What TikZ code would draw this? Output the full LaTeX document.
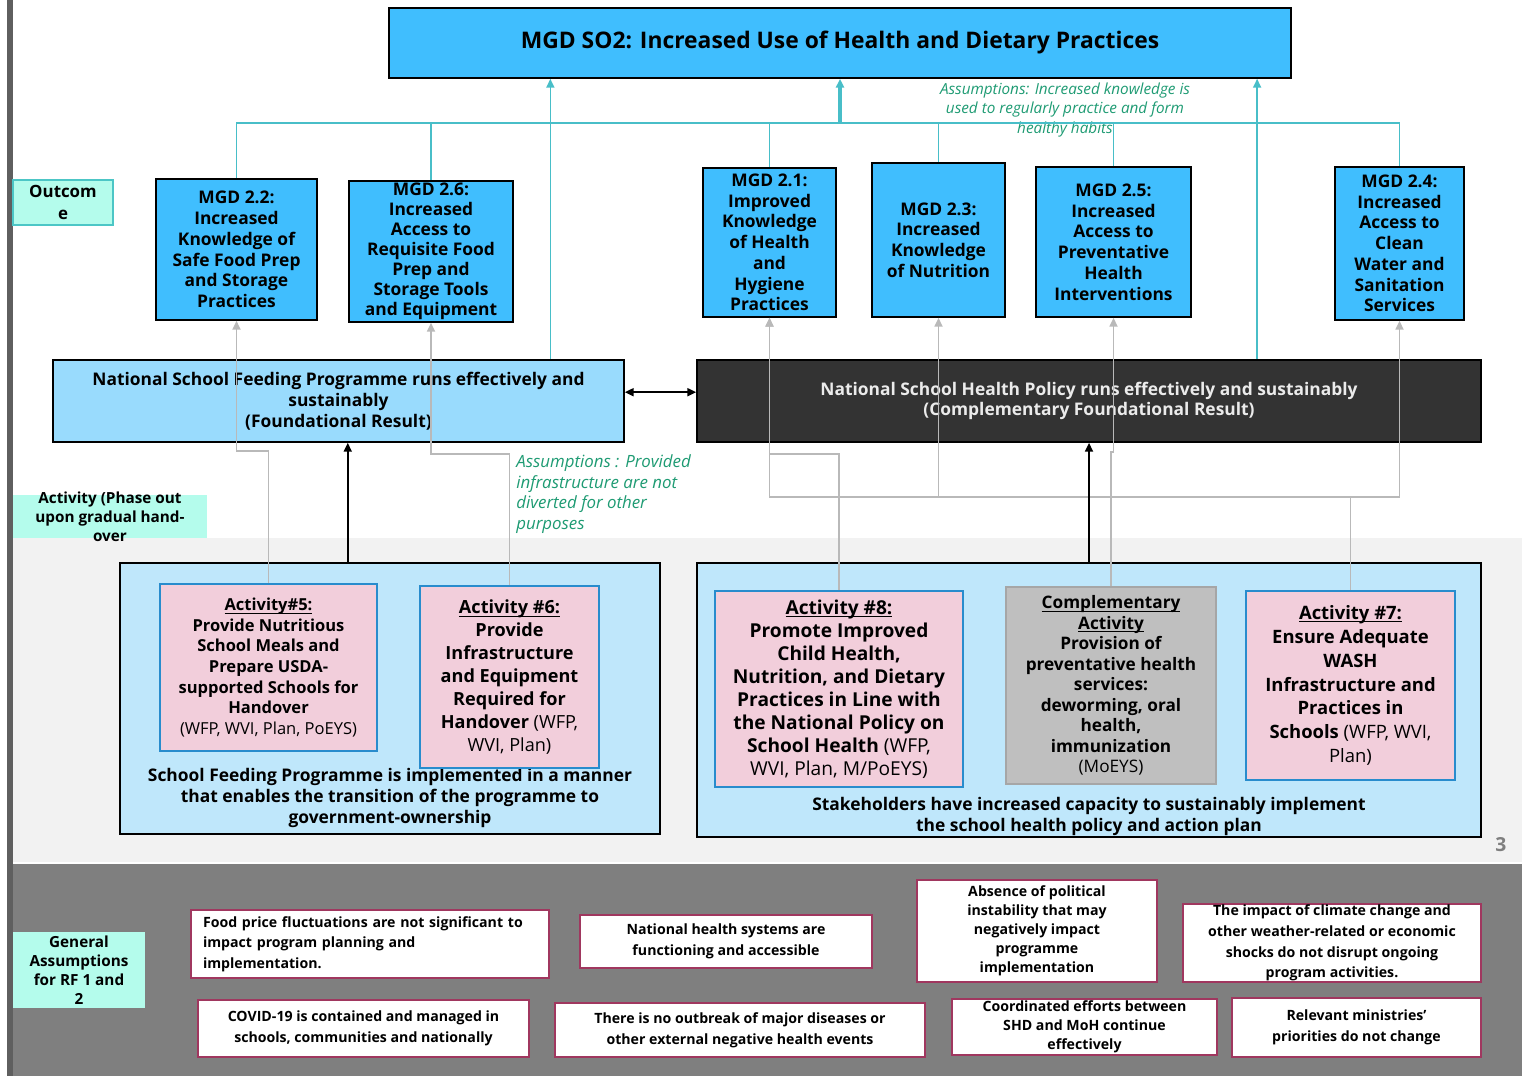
\documentclass[tikz,border=0pt]{standalone}
\usepackage{fontspec}
\setmainfont{Open Sans}
\usepackage{xcolor}
\usepackage{tikz}
\usetikzlibrary{positioning,calc,arrows.meta}

\definecolor{mgdblue}{RGB}{64,190,254}
\definecolor{foundblue}{RGB}{153,219,253}
\definecolor{healthdark}{RGB}{51,51,51}
\definecolor{outerblue}{RGB}{191,231,251}
\definecolor{actpink}{RGB}{242,206,219}
\definecolor{actedge}{RGB}{40,140,205}
\definecolor{compgray}{RGB}{191,191,191}
\definecolor{compedge}{RGB}{166,166,166}
\definecolor{aqua}{RGB}{180,252,236}
\definecolor{aquaedge}{RGB}{76,198,198}
\definecolor{tealln}{RGB}{72,190,200}
\definecolor{grayln}{RGB}{185,185,185}
\definecolor{notegreen}{RGB}{30,155,115}
\definecolor{assumeedge}{RGB}{160,55,95}
\definecolor{bandgray}{RGB}{242,242,242}
\definecolor{footgray}{RGB}{127,127,127}
\definecolor{bargray}{RGB}{95,95,95}

\newlength{\ux}
\setlength{\ux}{0.02cm}
\newcommand{\ulin}[1]{\underline{\raisebox{0pt}[\height][0pt]{#1}}}
\tikzset{wh/.style 2 args={minimum width=#1*\ux, minimum height=#2*\ux}}

\begin{document}
\begin{tikzpicture}[
    x=\ux, y=-\ux,
    box/.style = {
        rectangle,
        draw=black,
        line width=0.9pt,
        align=center,
        inner sep=0pt
    },
    mgd/.style      = {box, fill=mgdblue, font=\bfseries\fontsize{9.9}{11.8}\selectfont},
    found/.style    = {box, font=\bfseries\fontsize{9.9}{11.8}\selectfont},
    outer/.style    = {box, fill=outerblue},
    outertext/.style = {align=center, inner sep=0pt, font=\bfseries\fontsize{9.9}{11.9}\selectfont},
    act/.style      = {box, draw=actedge, line width=1.1pt, fill=actpink},
    comp/.style     = {box, draw=compedge, line width=1.1pt, fill=compgray, font=\bfseries\fontsize{9.8}{11.7}\selectfont},
    sidelabel/.style = {box, draw=none, fill=aqua, font=\bfseries\fontsize{8.7}{10.8}\selectfont},
    assume/.style   = {box, draw=assumeedge, line width=1pt, fill=white, font=\bfseries\fontsize{8.05}{11.7}\selectfont},
    note/.style     = {inner sep=0pt, text=notegreen, font=\itshape\fontsize{8.7}{11}\selectfont},
    tealline/.style  = {draw=tealln, line width=0.9pt},
    tealarrow/.style = {tealline, -{Triangle[length=5pt,width=4.5pt]}},
    grayarrow/.style = {draw=grayln, line width=1.1pt, -{Triangle[length=5pt,width=4.5pt]}},
    blackarrow/.style = {draw=black, line width=1.1pt, -{Triangle[length=5pt,width=4.5pt]}},
    dblarrow/.style  = {draw=black, line width=1.1pt, {Triangle[length=5pt,width=4.5pt]}-{Triangle[length=5pt,width=4.5pt]}}
]

\useasboundingbox (0,0) rectangle (1522,1076);

% backdrop bands
\fill[white] (0,0) rectangle (1522,1076);
\fill[bandgray] (13,538) rectangle (1522,862);
\fill[footgray] (8,864) rectangle (1522,1076);
\fill[bargray] (7,0) rectangle (13,1076);

% goal
\node[mgd, wh={902}{70}, font=\bfseries\fontsize{13}{15}\selectfont] (so2) at (840,43)
    {MGD SO2: Increased Use of Health and Dietary Practices};

% outcomes
\node[mgd, wh={161}{141}] (m22) at (236.5,249.5)
    {MGD 2.2:\\Increased\\Knowledge of\\Safe Food Prep\\and Storage\\Practices};
\node[mgd, wh={164}{141}, font=\bfseries\fontsize{9.9}{11.4}\selectfont] (m26) at (431,251.5)
    {MGD 2.6:\\Increased\\Access to\\Requisite Food\\Prep and\\Storage Tools\\and Equipment};
\node[mgd, wh={133}{149}] (m21) at (769.5,242.5)
    {MGD 2.1:\\Improved\\Knowledge\\of Health\\and\\Hygiene\\Practices};
\node[mgd, wh={133}{154}] (m23) at (938.5,240)
    {MGD 2.3:\\Increased\\Knowledge\\of Nutrition};
\node[mgd, wh={155}{150}] (m25) at (1113.5,242)
    {MGD 2.5:\\Increased\\Access to\\Preventative\\Health\\Interventions};
\node[mgd, wh={129}{153}] (m24) at (1399.5,243.5)
    {MGD 2.4:\\Increased\\Access to\\Clean\\Water and\\Sanitation\\Services};

% foundational results
\node[found, fill=foundblue, wh={571}{82}] (nsfp) at (338.5,401)
    {National School Feeding Programme runs effectively and\\sustainably\\(Foundational Result)};
\node[found, fill=healthdark, text=white!92!black, wh={784}{82}] (nshp) at (1089,401)
    {National School Health Policy runs effectively and sustainably\\(Complementary Foundational Result)};

% activity groups
\node[outer, wh={540}{271}] (lout) at (390,698.5) {};
\node[outer, wh={784}{274}] (rout) at (1089,700) {};

\node[outertext] (lfeedtxt) at (390,798)
    {School Feeding Programme is implemented in a manner\\that enables the transition of the programme to\\government-ownership};
\node[outertext] (rhealthtxt) at (1089,816.5)
    {Stakeholders have increased capacity to sustainably implement\\the school health policy and action plan};

\node[act, wh={217}{167}, font=\bfseries\fontsize{9.4}{11.7}\selectfont] (act5) at (268.5,667.5)
    {\ulin{Activity\#5:}\\Provide Nutritious\\School Meals and\\Prepare USDA-\\supported Schools for\\Handover\\{\mdseries (WFP, WVI, Plan, PoEYS)}};
\node[act, wh={179}{182}, font=\bfseries\fontsize{10.3}{13.1}\selectfont] (act6) at (509.5,677)
    {\ulin{Activity \#6:}\\Provide\\Infrastructure\\and Equipment\\Required for\\Handover {\mdseries (WFP,}\\{\mdseries WVI, Plan)}};
\node[act, wh={248}{196}, font=\bfseries\fontsize{10.9}{13.1}\selectfont] (act8) at (839,689)
    {\ulin{Activity \#8:}\\Promote Improved\\Child Health,\\Nutrition, and Dietary\\Practices in Line with\\the National Policy on\\School Health {\mdseries (WFP,}\\{\mdseries WVI, Plan, M/PoEYS)}};
\node[comp, wh={210}{197}] (comp) at (1111,685.5)
    {\ulin{Complementary}\\\ulin{Activity}\\Provision of\\preventative health\\services:\\deworming, oral\\health,\\immunization\\{\mdseries (MoEYS)}};
\node[act, wh={209}{189}, font=\bfseries\fontsize{10.5}{13.6}\selectfont] (act7) at (1350.5,685.5)
    {\ulin{Activity \#7:}\\Ensure Adequate\\WASH\\Infrastructure and\\Practices in\\Schools {\mdseries (WFP, WVI,}\\{\mdseries Plan)}};

% side labels
\node[sidelabel, draw=aquaedge, line width=0.8pt, wh={100}{45}, font=\bfseries\fontsize{9.6}{12}\selectfont] (outlbl) at (63,202.5)
    {Outcom\\e};
\node[sidelabel, wh={194}{43},
      label={[align=center, font=\bfseries\fontsize{8.7}{10.8}\selectfont]center:Activity (Phase out\\upon gradual hand-\\over}] (actlbl) at (110,516.5) {};
\node[sidelabel, wh={132}{76}] (genlbl) at (79,970)
    {General\\Assumptions\\for RF 1 and\\2};

% assumption notes
\node[note, align=center] (knnote) at (1065,110)
    {Assumptions: Increased knowledge is\\used to regularly practice and form\\healthy habits};
\node[note, align=left, anchor=west, font=\itshape\fontsize{9.6}{11.8}\selectfont] (infranote) at (516,494)
    {Assumptions : Provided\\infrastructure are not\\diverted for other\\purposes};

% general assumptions
\node[assume, wh={358}{68}, align=left, text width=334*\ux] (b1) at (370,944)
    {Food price fluctuations are not significant to\\impact program planning and\\implementation.};
\node[assume, wh={292}{53}] (b2) at (726,941.5)
    {National health systems are\\functioning and accessible};
\node[assume, wh={240}{102}, font=\bfseries\fontsize{8.05}{10.8}\selectfont] (b3) at (1037,931)
    {Absence of political\\instability that may\\negatively impact\\programme\\implementation};
\node[assume, wh={298}{78}] (b4) at (1332,943)
    {The impact of climate change and\\other weather-related or economic\\shocks do not disrupt ongoing\\program activities.};
\node[assume, wh={331}{57}] (b5) at (363.5,1028.5)
    {COVID-19 is contained and managed in\\schools, communities and nationally};
\node[assume, wh={370}{54}] (b6) at (740,1030)
    {There is no outbreak of major diseases or\\other external negative health events};
\node[assume, wh={265}{56}, font=\bfseries\fontsize{8.05}{10.8}\selectfont] (b7) at (1084.5,1027)
    {Coordinated efforts between\\SHD and MoH continue\\effectively};
\node[assume, wh={249}{59}] (b8) at (1356.5,1027.5)
    {Relevant ministries'\\priorities do not change};

\node[text=footgray, font=\bfseries\fontsize{11}{13}\selectfont] (pgnum) at (1501,845) {3};

% outcomes -> goal
\coordinate (hub) at (840,123);
\draw[tealline] (m22.north) |- (m24.north |- hub) -- (m24.north);
\draw[tealline] (m26.north) -- (m26.north |- hub);
\draw[tealline] (m21.north) -- (m21.north |- hub);
\draw[tealline] (m23.north) -- (m23.north |- hub);
\draw[tealline] (m25.north) -- (m25.north |- hub);
\draw[tealarrow, line width=1.8pt] (hub) -- (hub |- so2.south);
\draw[tealarrow] ($(nsfp.north west)!0.87!(nsfp.north east)$) coordinate (nsfptop) -- (nsfptop |- so2.south);
\draw[tealarrow] ($(nshp.north west)!0.714!(nshp.north east)$) coordinate (nshptop) -- (nshptop |- so2.south);

% activities -> outcomes
\draw[grayarrow] (act5.north) |- (m22.south |- 0,451) -- (m22.south);
\draw[grayarrow] (act6.north) |- (m26.south |- 0,454) -- (m26.south);
\draw[grayarrow] (act8.north) |- (m21.south |- 0,454) -- (m21.south);
\draw[grayarrow] (act7.north) |- (m21.south |- 0,497) -- (m21.south);
\coordinate (j3) at (m23.south |- 0,497);
\coordinate (j7) at (act7.north |- 0,497);
\draw[grayarrow] (j3) -- (m23.south);
\draw[grayarrow] (j7) -| (m24.south);
\draw[grayarrow] (comp.north) |- (m25.south |- 0,452) -- (m25.south);

% activity groups -> foundational results
\draw[blackarrow] ($(lout.north west)!0.422!(lout.north east)$) coordinate (louttop) -- (louttop |- nsfp.south);
\draw[blackarrow] (rout.north) -- (nshp.south);
\draw[dblarrow] ([yshift=5pt]nsfp.east) -- ([yshift=5pt]nshp.west);

\end{tikzpicture}
\end{document}
